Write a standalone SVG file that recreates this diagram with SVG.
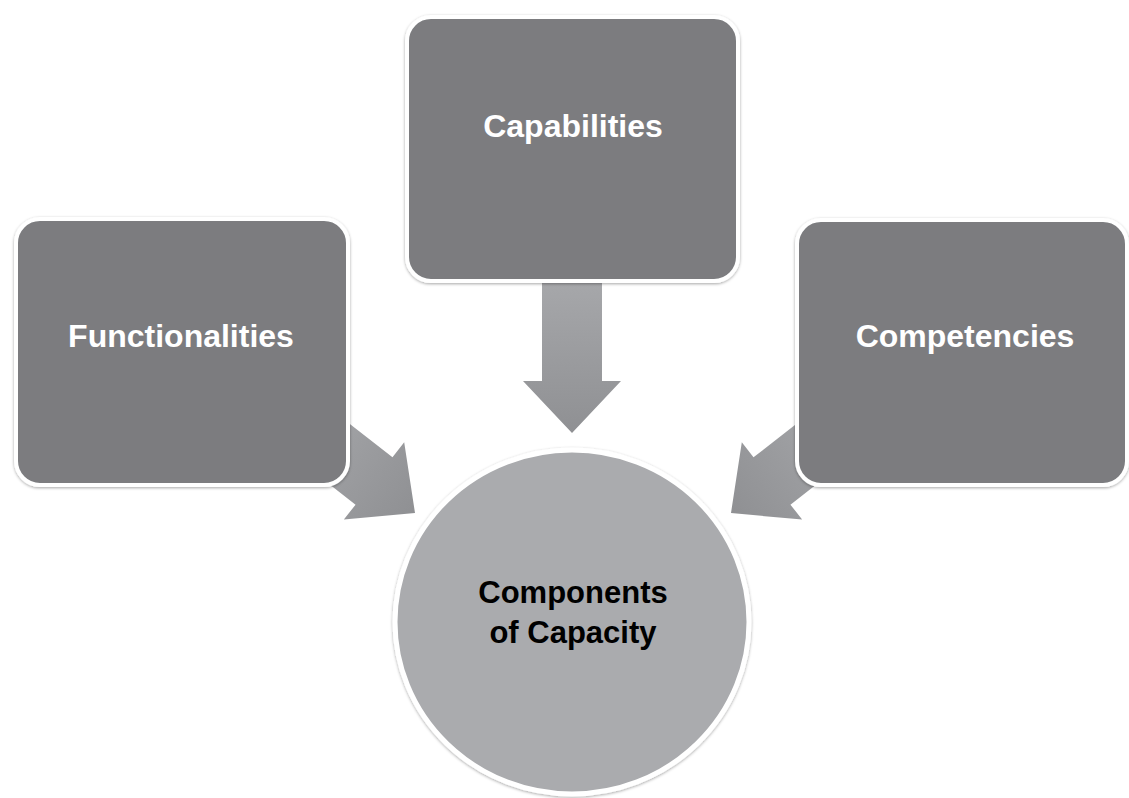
<svg xmlns="http://www.w3.org/2000/svg" width="1129" height="798" viewBox="0 0 1129 798">
  <defs>
    <filter id="soft" x="-10%" y="-10%" width="120%" height="120%">
      <feDropShadow dx="0" dy="1" stdDeviation="1.6" flood-color="#000" flood-opacity="0.35"/>
    </filter>
    <linearGradient id="arrowFill" x1="0" y1="0" x2="1" y2="0">
      <stop offset="0" stop-color="#a6a7aa"/>
      <stop offset="1" stop-color="#8f9093"/>
    </linearGradient>
    <!-- block arrow pointing along +x, tip at the origin -->
    <path id="blockArrow" d="M0,0 L-52,-49 L-52,-30 L-150,-30 L-150,30 L-52,30 L-52,49 Z"/>
    <style>
      .box { fill: #7b7c7f; stroke: #ffffff; stroke-width: 4; filter: url(#soft); }
      .hub { fill: #aaabae; stroke: #ffffff; stroke-width: 5; filter: url(#soft); }
      .arrow { fill: url(#arrowFill); }
      .lbl { font-family: "Liberation Sans", Arial, sans-serif; font-weight: bold; font-size: 32px; text-anchor: middle; fill: #ffffff; }
      .hubLbl { font-family: "Liberation Sans", Arial, sans-serif; font-weight: bold; font-size: 31px; text-anchor: middle; fill: #000000; }
    </style>
  </defs>

  <rect width="1129" height="798" fill="#ffffff"/>

  <!-- connectors: block arrows into the hub -->
  <g id="connectors">
    <use href="#blockArrow" class="arrow" transform="translate(572,433) rotate(90)"/>
    <use href="#blockArrow" class="arrow" transform="translate(415,513) rotate(38)"/>
    <use href="#blockArrow" class="arrow" transform="translate(731,513) rotate(142)"/>
  </g>

  <g id="node-capabilities">
    <rect class="box" x="407" y="17" width="331" height="264" rx="24"/>
    <text class="lbl" x="573" y="137">Capabilities</text>
  </g>

  <g id="node-functionalities">
    <rect class="box" x="16" y="219" width="332" height="266" rx="24"/>
    <text class="lbl" x="181" y="347">Functionalities</text>
  </g>

  <g id="node-competencies">
    <rect class="box" x="797" y="220" width="330" height="265" rx="24"/>
    <text class="lbl" x="965" y="347">Competencies</text>
  </g>

  <g id="node-capacity">
    <ellipse class="hub" cx="572" cy="622" rx="177" ry="172"/>
    <text class="hubLbl" x="573" y="603">Components</text>
    <text class="hubLbl" x="573" y="643">of Capacity</text>
  </g>
</svg>
